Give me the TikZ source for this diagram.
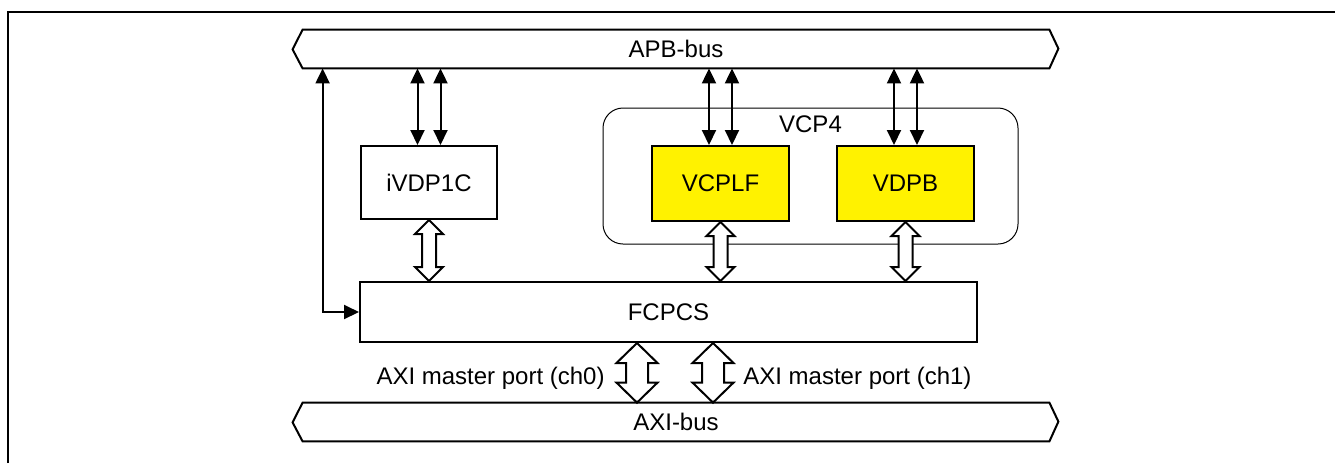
\documentclass[tikz,border=0pt]{standalone}
\usepackage{fontspec}
\setmainfont{Liberation Sans}
\usepackage{tikz}
\usetikzlibrary{arrows.meta, positioning, calc}

% hollow two-headed arrow: top, bottom, head half-width, shaft half-width, head length
\newcommand{\hollowarrow}[5]{%
  \draw[hollow] (#1) -- ++(#3,#5) -- ++({#4-#3},0) -- ($(#2)+(#4,-#5)$)
    -- ++({#3-#4},0) -- (#2) -- ++(-#3,-#5) -- ++({#3-#4},0)
    -- ($(#1)+(-#4,#5)$) -- ++({#4-#3},0) -- cycle;}

\begin{document}
\begin{tikzpicture}[
  x=0.5pt, y=-0.5pt,
  font=\fontsize{12}{14}\selectfont,
  blk/.style={draw, line width=1pt, fill=white, inner sep=0pt},
  ipblk/.style={blk, fill=yellow, minimum width=68.5pt, minimum height=37.5pt},
  grp/.style={draw, line width=0.5pt, rounded corners=10pt, inner sep=0pt,
    minimum width=207.5pt, minimum height=68pt},
  busbox/.style={inner sep=0pt, minimum width=373pt, minimum height=19pt},
  busline/.style={line width=1pt, line join=miter},
  ctl/.style={line width=1pt,
    {Triangle[length=7.5pt,width=7pt]}-{Triangle[length=7.5pt,width=7pt]}},
  hollow/.style={line width=1pt, fill=white, line join=miter},
  frame/.style={line width=1pt}
]
  \useasboundingbox (0,0) rectangle (1335,463);
  \draw[frame] (8,463) -- (8,12) -- (1335,12);

  % buses
  \node[busbox] (apb) at (676,49) {APB-bus};
  \draw[busline] (apb.north west) -- (apb.north east) -- ++(9,19)
    -- (apb.south east) -- (apb.south west) -- ++(-10,-19) -- cycle;
  \node[busbox] (axi) at (676,422) {AXI-bus};
  \draw[busline] (axi.north west) -- (axi.north east) -- ++(9,19)
    -- (axi.south east) -- (axi.south west) -- ++(-10,-19) -- cycle;

  % blocks
  \node[grp] (vcp4) at (810.5,176) {};
  \node (vcp4t) at ($(vcp4.north)+(0,17)$) {VCP4};
  \node[blk, minimum width=68pt, minimum height=36.5pt] (ivdp) at (429,182.5) {iVDP1C};
  \node[ipblk] (vcplf) at (720.5,183.5) {VCPLF};
  \node[ipblk] (vdpb) at (905.5,183.5) {VDPB};
  \node[blk, minimum width=308.5pt, minimum height=30pt] (fcpcs) at (668.5,312) {FCPCS};

  % register access from APB
  \foreach \b in {ivdp,vcplf,vdpb}{
    \foreach \dx in {-11.5,11.5}{
      \coordinate (t) at ($(\b.north)+(\dx,0)$);
      \draw[ctl] (t) -- (t |- apb.south);
    }
  }
  \coordinate (lp) at ($(apb.south west)+(20,0)$);
  \draw[ctl] (fcpcs.west) -| (lp);

  % data paths
  \hollowarrow{ivdp.south}{ivdp.south |- fcpcs.north}{14}{7}{14}
  \hollowarrow{vcplf.south}{vcplf.south |- fcpcs.north}{14}{7}{14}
  \hollowarrow{vdpb.south}{vdpb.south |- fcpcs.north}{14}{7}{14}

  \coordinate (p0) at ($(fcpcs.south)+(-31.5,0)$);
  \coordinate (p1) at ($(fcpcs.south)+(44.5,0)$);
  \hollowarrow{p0}{p0 |- axi.north}{20.5}{11}{20}
  \hollowarrow{p1}{p1 |- axi.north}{20.5}{11}{20}
  \node[anchor=east, inner sep=0pt] (l0) at ($(p0)+(-32,35)$) {AXI master port (ch0)};
  \node[anchor=west, inner sep=0pt] (l1) at ($(p1)+(30,35)$) {AXI master port (ch1)};
\end{tikzpicture}
\end{document}
